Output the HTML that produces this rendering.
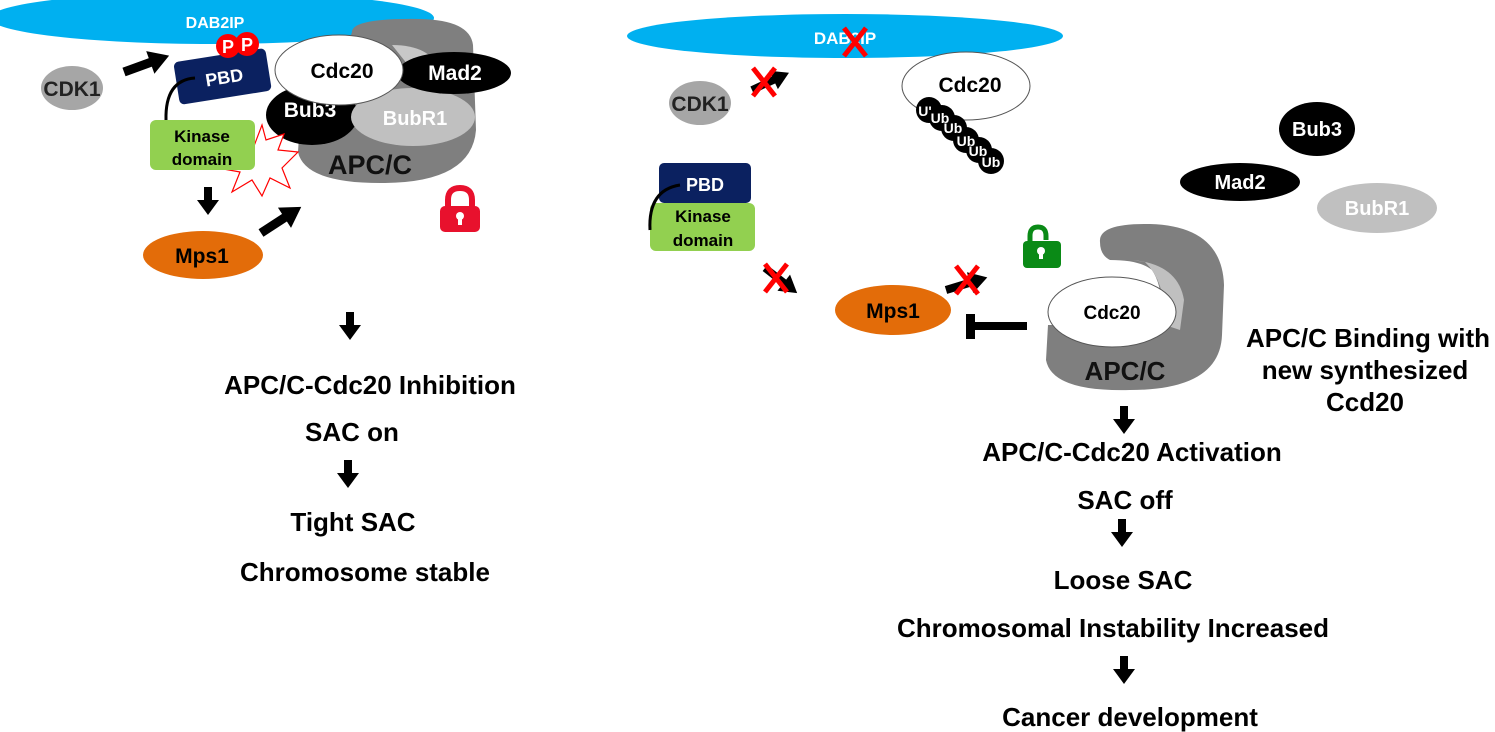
<!DOCTYPE html>
<html><head><meta charset="utf-8"><style>
html,body{margin:0;padding:0;background:#fff;}
svg{display:block;font-family:"Liberation Sans",Arial,sans-serif;font-weight:bold;}
</style></head><body>
<svg width="1495" height="732" viewBox="0 0 1495 732" xmlns="http://www.w3.org/2000/svg">
<defs>
<g id="dn"><rect x="-4" y="0" width="8" height="14" fill="#000"/><polygon points="-11,13 11,13 0,28" fill="#000"/></g>
<g id="ar"><rect x="0" y="-4.5" width="30" height="9" fill="#000"/><polygon points="28,-12 48,0 28,12" fill="#000"/></g>
<g id="x"><line x1="-11" y1="-14" x2="11" y2="14" stroke="#f00" stroke-width="5"/><line x1="11" y1="-14" x2="-11" y2="14" stroke="#f00" stroke-width="5"/></g>
</defs>

<!-- LEFT PANEL -->
<ellipse cx="212" cy="18" rx="222" ry="26" fill="#00b0f0"/>
<text x="215" y="28" font-size="16" fill="#fff" text-anchor="middle">DAB2IP</text>

<path d="M352,32 Q352,18 420,19 Q470,20 473,45 L476,130 Q472,182 385,183 Q305,184 298,152 L300,120 Q330,100 352,32 Z" fill="#7f7f7f"/>
<path d="M392,45 Q430,45 440,70 L420,80 Z" fill="#c8c8c8"/>
<ellipse cx="312" cy="115" rx="46" ry="30" fill="#000"/>
<text x="310" y="117" font-size="21" fill="#fff" text-anchor="middle">Bub3</text>
<ellipse cx="413" cy="117" rx="62" ry="29" fill="#c0c0c0"/>
<text x="415" y="125" font-size="20" fill="#fff" text-anchor="middle">BubR1</text>
<ellipse cx="454" cy="73" rx="57" ry="21" fill="#000"/>
<text x="455" y="80" font-size="21" fill="#fff" text-anchor="middle">Mad2</text>
<ellipse cx="339" cy="70" rx="64" ry="35" fill="#fff" stroke="#555" stroke-width="1"/>
<text x="342" y="78" font-size="21" fill="#000" text-anchor="middle">Cdc20</text>
<text x="370" y="174" font-size="27" fill="#111" text-anchor="middle">APC/C</text>

<polygon points="218,168 240,172 232,192 252,180 262,196 270,178 290,188 282,168 298,152 278,150 284,134 266,140 262,125 254,146 245,140 250,158" fill="#fff" stroke="#f00" stroke-width="1.2"/>

<g transform="rotate(-9 222 76)">
<rect x="176" y="55" width="93" height="43" rx="5" fill="#0b2160"/>
<text x="224" y="84" font-size="18" fill="#fff" text-anchor="middle">PBD</text>
</g>
<circle cx="228" cy="46" r="12" fill="#f00"/><circle cx="247" cy="44" r="12" fill="#f00"/>
<text x="228" y="53" font-size="18" fill="#fff" text-anchor="middle">P</text>
<text x="247" y="51" font-size="18" fill="#fff" text-anchor="middle">P</text>
<path d="M195,78 Q165,80 166,120" fill="none" stroke="#000" stroke-width="3"/>
<rect x="150" y="120" width="105" height="50" rx="6" fill="#92d050"/>
<text x="202" y="142" font-size="17" fill="#000" text-anchor="middle">Kinase</text>
<text x="202" y="165" font-size="17" fill="#000" text-anchor="middle">domain</text>

<ellipse cx="72" cy="88" rx="31" ry="22" fill="#a6a6a6"/>
<text x="72" y="96" font-size="21" fill="#222" text-anchor="middle">CDK1</text>
<use href="#ar" transform="translate(124,72) rotate(-20)"/>
<use href="#dn" transform="translate(208,187)"/>
<ellipse cx="203" cy="255" rx="60" ry="24" fill="#e36c09"/>
<text x="202" y="263" font-size="21" fill="#000" text-anchor="middle">Mps1</text>
<use href="#ar" transform="translate(261,233) rotate(-33)"/>

<path d="M448,208 L448,200 Q448,188 460,188 Q472,188 472,200 L472,208" fill="none" stroke="#e8112d" stroke-width="6"/>
<rect x="440" y="206" width="40" height="26" rx="5" fill="#e8112d"/>
<circle cx="460" cy="216" r="4" fill="#fff"/><rect x="458" y="216" width="4" height="9" fill="#fff"/>

<use href="#dn" transform="translate(350,312)"/>
<text x="370" y="394" font-size="26" text-anchor="middle">APC/C-Cdc20 Inhibition</text>
<text x="352" y="441" font-size="26" text-anchor="middle">SAC on</text>
<use href="#dn" transform="translate(348,460)"/>
<text x="353" y="531" font-size="26" text-anchor="middle">Tight SAC</text>
<text x="365" y="581" font-size="26" text-anchor="middle">Chromosome stable</text>

<!-- RIGHT PANEL -->
<ellipse cx="845" cy="36" rx="218" ry="22" fill="#00b0f0"/>
<text x="845" y="44" font-size="17" fill="#fff" text-anchor="middle">DAB2IP</text>
<use href="#x" transform="translate(855,42)"/>

<ellipse cx="700" cy="103" rx="31" ry="22" fill="#a6a6a6"/>
<text x="700" y="111" font-size="21" fill="#222" text-anchor="middle">CDK1</text>
<use href="#ar" transform="translate(752,90) rotate(-25) scale(0.85)"/>
<use href="#x" transform="translate(764,82)"/>

<ellipse cx="966" cy="86" rx="64" ry="34" fill="#fff" stroke="#555" stroke-width="1"/>
<text x="970" y="92" font-size="21" text-anchor="middle">Cdc20</text>
<g font-size="14" fill="#fff" text-anchor="middle">
<circle cx="929" cy="110" r="13" fill="#000"/>
<circle cx="942" cy="118" r="13" fill="#000"/>
<circle cx="954" cy="128" r="13" fill="#000"/>
<circle cx="966" cy="140" r="13" fill="#000"/>
<circle cx="979" cy="150" r="13" fill="#000"/>
<circle cx="991" cy="161" r="13" fill="#000"/>
<text x="925" y="116">U'</text><text x="940" y="123">Ub</text><text x="953" y="133">Ub</text><text x="966" y="146">Ub</text><text x="978" y="156">Ub</text><text x="991" y="167">Ub</text>
</g>

<rect x="659" y="163" width="92" height="40" rx="5" fill="#0b2160"/>
<text x="705" y="191" font-size="18" fill="#fff" text-anchor="middle">PBD</text>
<rect x="650" y="203" width="105" height="48" rx="6" fill="#92d050"/>
<text x="703" y="222" font-size="17" text-anchor="middle">Kinase</text>
<text x="703" y="246" font-size="17" text-anchor="middle">domain</text>
<path d="M680,185 Q648,190 650,230" fill="none" stroke="#000" stroke-width="3"/>

<use href="#ar" transform="translate(765,268) rotate(38) scale(0.85)"/>
<use href="#x" transform="translate(776,278)"/>
<ellipse cx="893" cy="310" rx="58" ry="25" fill="#e36c09"/>
<text x="893" y="318" font-size="21" text-anchor="middle">Mps1</text>
<use href="#ar" transform="translate(946,290) rotate(-17) scale(0.9)"/>
<use href="#x" transform="translate(967,280)"/>

<path d="M1030,244 L1030,236 Q1030,227 1038,227 Q1046,227 1046,236 L1046,240" fill="none" stroke="#0a8a16" stroke-width="5"/>
<rect x="1023" y="241" width="38" height="27" rx="4" fill="#0a8a16"/>
<circle cx="1041" cy="251" r="4" fill="#fff"/><rect x="1039" y="251" width="4" height="8" fill="#fff"/>

<ellipse cx="1317" cy="129" rx="38" ry="27" fill="#000"/>
<text x="1317" y="136" font-size="20" fill="#fff" text-anchor="middle">Bub3</text>
<ellipse cx="1240" cy="182" rx="60" ry="19" fill="#000"/>
<text x="1240" y="189" font-size="20" fill="#fff" text-anchor="middle">Mad2</text>
<ellipse cx="1377" cy="208" rx="60" ry="25" fill="#c0c0c0"/>
<text x="1377" y="215" font-size="20" fill="#fff" text-anchor="middle">BubR1</text>

<path d="M1100,242 Q1098,223 1150,224 Q1222,226 1224,285 L1222,335 Q1220,390 1130,390 Q1052,392 1046,360 L1048,325 L1160,325 Q1165,290 1152,270 Q1140,260 1110,260 Q1100,255 1100,242 Z" fill="#7f7f7f"/>
<path d="M1132,260 Q1178,264 1184,300 L1180,330 L1165,325 Q1166,282 1145,262 Z" fill="#c0c0c0"/>
<ellipse cx="1112" cy="312" rx="64" ry="35" fill="#fff" stroke="#555" stroke-width="1"/>
<text x="1112" y="319" font-size="19" text-anchor="middle">Cdc20</text>
<text x="1125" y="380" font-size="26" fill="#111" text-anchor="middle">APC/C</text>

<rect x="970" y="322" width="57" height="8" fill="#000"/>
<rect x="966" y="314" width="9" height="25" fill="#000"/>

<text x="1368" y="347" font-size="26" text-anchor="middle">APC/C Binding with</text>
<text x="1365" y="379" font-size="26" text-anchor="middle">new synthesized</text>
<text x="1365" y="411" font-size="26" text-anchor="middle">Ccd20</text>

<use href="#dn" transform="translate(1124,406)"/>
<text x="1132" y="461" font-size="26" text-anchor="middle">APC/C-Cdc20 Activation</text>
<text x="1125" y="509" font-size="26" text-anchor="middle">SAC off</text>
<use href="#dn" transform="translate(1122,519)"/>
<text x="1123" y="589" font-size="26" text-anchor="middle">Loose SAC</text>
<text x="1113" y="637" font-size="26" text-anchor="middle">Chromosomal Instability Increased</text>
<use href="#dn" transform="translate(1124,656)"/>
<text x="1130" y="726" font-size="26" text-anchor="middle">Cancer development</text>
</svg>
</body></html>
